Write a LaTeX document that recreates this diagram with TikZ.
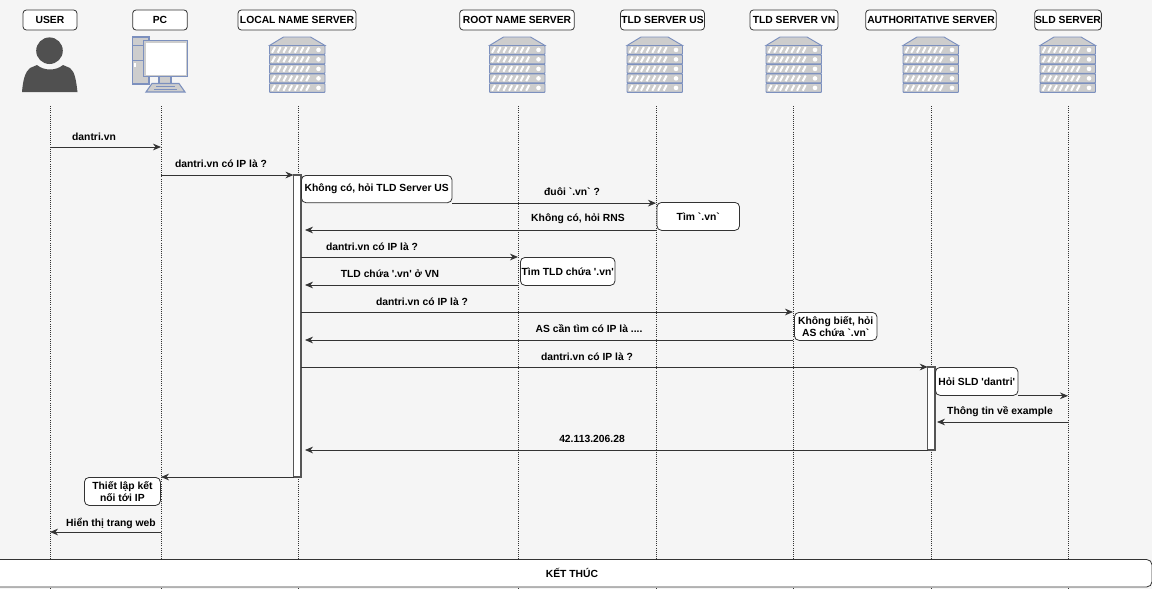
\documentclass[tikz,border=0pt]{standalone}
\usepackage{fontspec}
\usetikzlibrary{arrows.meta}
\newfontfamily\diagfont{Liberation Sans}
\definecolor{pagegray}{HTML}{F5F5F5}
\definecolor{linegray}{HTML}{333333}
\definecolor{bargray}{HTML}{555555}
\definecolor{iconblue}{HTML}{7C90BE}
\definecolor{icongray}{HTML}{CDCDCD}
\definecolor{userdark}{HTML}{505050}
\tikzset{
  txt/.style={font=\diagfont\bfseries\fontsize{7.75}{9.1}\selectfont, text=black, inner sep=0pt, align=center},
  msgtxt/.style={txt, yshift=-0.7pt},
  headbox/.style={txt, draw=linegray, fill=white, rounded corners=2.5pt, minimum height=15pt, line width=0.6pt},
  notebox/.style={txt, draw=linegray, fill=white, rounded corners=3.5pt, line width=0.6pt, anchor=north west},
  msg/.style={-{Stealth[length=6pt,width=5pt]}, draw=linegray, line width=0.6pt},
  life/.style={densely dotted, draw=linegray, line width=0.6pt},
  bar/.style={draw=bargray, fill=white, line width=0.8pt},
  rack/.pic={
    \draw[iconblue, fill=icongray, line width=0.7pt] (-28,-8.5)--(-14,-17)--(13,-17)--(27.5,-8.5)--cycle;
    \foreach \r in {-8.5,1,10.5,20,29.5}{
      \draw[iconblue, fill=icongray, line width=0.7pt, rounded corners=0.5pt] (-28,\r) rectangle (27.5,\r+8.8);
      \foreach \s in {0,...,6}
        \draw[white, line width=1.5pt] (-25.5+\s*5.7,\r+7.2)--(-22.5+\s*5.7,\r+1.6);
      \fill[white] (21,\r+4.4) circle (2.3);
    }
  },
}
\begin{document}
\begin{tikzpicture}[x=0.75pt,y=-0.75pt]

\fill[pagegray] (0,0) rectangle (1152,589);
\useasboundingbox (0,0) rectangle (1152,589);

% lifelines
\foreach \nm/\px in {user/50,pc/161,local/298,root/518,tldus/656,tldvn/793,auth/931,sld/1068}{
  \coordinate (\nm) at (\px,106);
  \coordinate (\nm end) at (\px,589);
  \draw[life] (\nm)--(\nm end);
}

% headers
\node[headbox, minimum width=40.5pt] (userhead) at (50,20) {USER};
\node[headbox, minimum width=41pt] (pchead) at (160,20) {PC};
\node[headbox, minimum width=88.5pt] (localhead) at (297,20) {LOCAL NAME SERVER};
\node[headbox, minimum width=86pt] (roothead) at (517,20) {ROOT NAME SERVER};
\node[headbox, minimum width=63pt] (tldushead) at (662.5,20) {TLD SERVER US};
\node[headbox, minimum width=66pt] (tldvnhead) at (794,20) {TLD SERVER VN};
\node[headbox, minimum width=98pt] (authhead) at (931,20) {AUTHORITATIVE SERVER};
\node[headbox, minimum width=50pt] (sldhead) at (1068,20) {SLD SERVER};

% icons
\foreach \px in {297.5,517.5,655,794,931,1068}
  \pic at (\px,54) {rack};

\fill[userdark] (49.5,50.7) circle (13.3);
\fill[userdark] (22,92) .. controls (23,80) and (25,72) .. (30,68)
  -- (37,65) .. controls (44,71) and (56,71) .. (63,65)
  -- (70,68) .. controls (75,72) and (76,80) .. (77.5,92) -- cycle;

\draw[iconblue, fill=icongray, line width=0.8pt] (132.3,37) rectangle (149,84);
\draw[iconblue, line width=0.6pt] (132.3,45)--(149,45) (132.3,60)--(149,60);
\fill[white] (133.5,63) rectangle (135.5,67);
\draw[iconblue, fill=icongray, line width=0.8pt] (159,76) rectangle (171,83.5);
\draw[iconblue, fill=icongray, line width=0.8pt] (152,83.5)--(179,83.5)--(185,92)--(146,92)--cycle;
\draw[iconblue, line width=0.5pt] (156,86)--(175,86) (154,89)--(177,89);
\draw[iconblue, fill=icongray, line width=1pt] (143.7,40.7) rectangle (187.7,76.7);
\fill[white] (145.8,43) rectangle (185.6,74.6);

% activation bars
\draw[bar] (293.5,175) rectangle (301,477);
\draw[bar] (927.7,367) rectangle (935,450);
\coordinate (lbar) at (301,175);
\coordinate (lbarback) at (305,175);
\coordinate (lbarin) at (293.5,175);
\coordinate (abar) at (927.7,367);
\coordinate (abarback) at (937,367);

% notes
\node[notebox, minimum width=113pt, minimum height=20.5pt] (asktld) at (301,175) {Không có, hỏi TLD Server US};
\node[notebox, minimum width=62pt, minimum height=21pt] (findvn) at (656.5,202) {Tìm `.vn`};
\node[notebox, minimum width=71pt, minimum height=21pt] (findtld) at (520,257) {Tìm TLD chứa '.vn'};
\node[notebox, minimum width=62pt, minimum height=21pt] (dunno) at (794,312) {Không biết, hỏi\\AS chứa `.vn`};
\node[notebox, minimum width=62pt, minimum height=21pt] (asksld) at (935,367) {Hỏi SLD 'dantri'};
\node[notebox, minimum width=57pt, minimum height=21pt] (connect) at (84,477) {Thiết lập kết\\nối tới IP};

% messages
\draw[msg] (user|-0,147)--(pc|-0,147);
\draw[msg] (pc|-0,175)--(lbarin);
\draw[msg] (asktld.south east)--(tldus|-asktld.south east);
\draw[msg] (tldus|-0,230)--(lbarback|-0,230);
\draw[msg] (lbar|-0,257)--(root|-0,257);
\draw[msg] (root|-0,285)--(lbarback|-0,285);
\draw[msg] (lbar|-0,312)--(tldvn|-0,312);
\draw[msg] (tldvn|-0,340)--(lbarback|-0,340);
\draw[msg] (lbar|-0,367)--(abar);
\draw[msg] (asksld.south east)--(sld|-asksld.south east);
\draw[msg] (sld|-0,422)--(abarback|-0,422);
\draw[msg] (abar|-0,450)--(lbarback|-0,450);
\draw[msg] (lbarin|-0,477)--(pc|-0,477);
\draw[msg] (pc|-0,532)--(user|-0,532);

% message labels
\node[msgtxt] (m1) at (94,136) {dantri.vn};
\node[msgtxt] (m2) at (221,163) {dantri.vn có IP là ?};
\node[msgtxt] (m3) at (572,191) {đuôi `.vn` ?};
\node[msgtxt] (m4) at (578,218) {Không có, hỏi RNS};
\node[msgtxt] (m5) at (372,246) {dantri.vn có IP là ?};
\node[msgtxt] (m6) at (390,273) {TLD chứa '.vn' ở VN};
\node[msgtxt] (m7) at (422,301) {dantri.vn có IP là ?};
\node[msgtxt] (m8) at (589,328) {AS cần tìm có IP là ....};
\node[msgtxt] (m9) at (587,356) {dantri.vn có IP là ?};
\node[msgtxt] (m10) at (1000,411) {Thông tin về example};
\node[msgtxt] (m11) at (592,438) {42.113.206.28};
\node[msgtxt] (m12) at (111,522) {Hiển thị trang web};

% end bar
\draw[draw=linegray, fill=white, line width=0.6pt, rounded corners=4pt] (-6,559.5) rectangle (1152,587);
\node[txt] (endlabel) at (572,573) {KẾT THÚC};

\end{tikzpicture}
\end{document}
